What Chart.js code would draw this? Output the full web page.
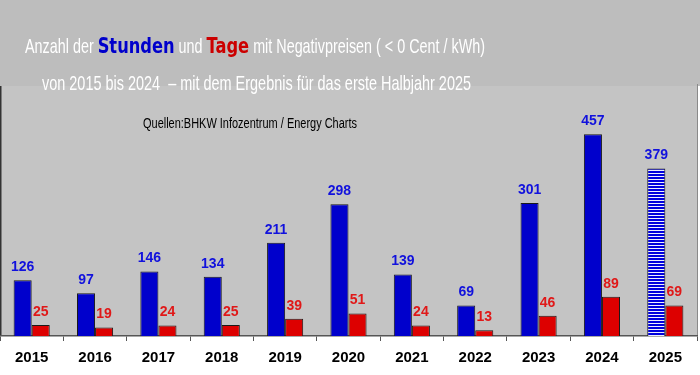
<!DOCTYPE html>
<html><head><meta charset="utf-8">
<script src="https://cdn.jsdelivr.net/npm/chart.js@4.4.1/dist/chart.umd.min.js"></script>
<style>html,body{margin:0;padding:0;background:#fff;overflow:hidden}</style>
</head><body>
<canvas id="c" width="700" height="375" style="width:700px;height:375px;display:block"></canvas>
<script>
// ---- data ----
const years = ['2015','2016','2017','2018','2019','2020','2021','2022','2023','2024','2025'];
const stunden = [126, 97, 146, 134, 211, 298, 139, 69, 301, 457, 379];
const tage = [25, 19, 24, 25, 39, 51, 24, 13, 46, 89, 69];
const titleParts = ['Anzahl der ', 'Stunden', ' und ', 'Tage', ' mit Negativpreisen ( < 0 Cent / kWh)'];
const subtitleText = 'von 2015 bis 2024  \u2013 mit dem Ergebnis für das erste Halbjahr 2025';
const sourceText = 'Quellen:BHKW Infozentrum / Energy Charts';

// ---- styles ----
const BLUE = '#0000cc', RED = '#dd0000';
const LBLUE = '#1111dd', LRED = '#e01818';
const FONT = '"Liberation Sans", Arial, sans-serif';

function stripePattern() {
  const c = document.createElement('canvas');
  c.width = 4; c.height = 3;
  const g = c.getContext('2d');
  g.fillStyle = '#eef0ff'; g.fillRect(0, 0, 4, 3);
  g.fillStyle = '#0000dd'; g.fillRect(0, 0, 4, 2);
  return g.createPattern(c, 'repeat');
}
const pat = stripePattern();
const blueFills = stunden.map((v, i) => i === stunden.length - 1 ? pat : BLUE);

const bgPlugin = {
  id: 'bg',
  beforeDraw(chart) {
    const { ctx, chartArea: a, width, height } = chart;
    ctx.save();
    ctx.fillStyle = '#ffffff'; ctx.fillRect(0, 0, width, height);
    ctx.fillStyle = '#bdbdbd'; ctx.fillRect(0, 0, width, a.top);
    ctx.fillStyle = '#c4c4c4'; ctx.fillRect(a.left, a.top, a.right - a.left, a.bottom - a.top);
    ctx.strokeStyle = '#333'; ctx.lineWidth = 1.5;
    ctx.beginPath(); ctx.moveTo(a.left + 0.75, a.top); ctx.lineTo(a.left + 0.75, a.bottom); ctx.stroke();
    ctx.strokeStyle = '#8a8a8a'; ctx.lineWidth = 1;
    ctx.beginPath(); ctx.moveTo(a.right + 0.5, a.top - 2); ctx.lineTo(a.right + 0.5, a.bottom); ctx.stroke();
    ctx.restore();
  }
};

function drawScaled(ctx, text, x, y, targetW) {
  const w = ctx.measureText(text).width;
  const s = targetW / w;
  ctx.save();
  ctx.translate(x, y);
  ctx.scale(s, 1);
  ctx.textAlign = 'center';
  ctx.fillText(text, 0, 0);
  ctx.restore();
}

const labelPlugin = {
  id: 'labels',
  afterDatasetsDraw(chart) {
    const { ctx } = chart;
    ctx.save();
    ctx.font = 'bold 14px ' + FONT;
    ctx.textAlign = 'center';
    ctx.textBaseline = 'middle';
    chart.data.datasets.forEach((ds, di) => {
      const meta = chart.getDatasetMeta(di);
      ctx.fillStyle = di === 0 ? LBLUE : LRED;
      meta.data.forEach((el, i) => {
        ctx.fillText(String(ds.data[i]), el.x, el.y - 13);
      });
    });
    ctx.restore();
  },
  afterDraw(chart) {
    const { ctx } = chart;
    ctx.save();
    ctx.textBaseline = 'alphabetic';
    // line 1 with mixed colours
    const fonts = ['21px ' + FONT, '900 22px "DejaVu Sans", ' + FONT, '21px ' + FONT, '900 22px "DejaVu Sans", ' + FONT, '21px ' + FONT];
    const cols = ['#ffffff', '#0000cc', '#ffffff', '#cc0000', '#ffffff'];
    const sx = [0.74, 0.80, 0.74, 0.80, 0.74];
    const widths = titleParts.map((t, i) => { ctx.font = fonts[i]; return ctx.measureText(t).width * sx[i]; });
    const total = widths.reduce((a, b) => a + b, 0);
    const k = 460 / total;
    let x = 255 - 230;
    titleParts.forEach((t, i) => {
      ctx.save();
      ctx.font = fonts[i];
      ctx.fillStyle = cols[i];
      ctx.translate(x, 53);
      ctx.scale(sx[i] * k, 1);
      ctx.textAlign = 'left';
      ctx.fillText(t, 0, 0);
      ctx.restore();
      x += widths[i] * k;
    });
    // line 2
    ctx.font = '21px ' + FONT;
    ctx.fillStyle = '#ffffff';
    drawScaled(ctx, subtitleText, 256.5, 90, 429);
    // source
    ctx.font = '14px ' + FONT;
    ctx.fillStyle = '#000000';
    drawScaled(ctx, sourceText, 250, 128, 214);
    ctx.restore();
  }
};

new Chart(document.getElementById('c'), {
  type: 'bar',
  data: {
    labels: years,
    datasets: [
      { label: 'Stunden', data: stunden, backgroundColor: blueFills, borderColor: '#1a1a1a', borderWidth: 1 },
      { label: 'Tage', data: tage, backgroundColor: RED, borderColor: '#1a1a1a', borderWidth: 1 }
    ]
  },
  options: {
    responsive: false,
    animation: false,
    devicePixelRatio: 1,
    categoryPercentage: 0.57,
    barPercentage: 1.0,
    layout: { padding: { top: 86, left: 0, right: 3, bottom: 0 } },
    plugins: { legend: { display: false }, title: { display: false }, tooltip: { enabled: false } },
    scales: {
      y: { display: false, min: 0, max: 566 },
      x: {
        offset: true,
        grid: { drawOnChartArea: false, tickLength: 5, color: '#555', offset: true },
        border: { color: '#555', width: 1.5 },
        ticks: { color: '#000', padding: 8, font: { family: FONT, size: 15, weight: 'bold' } }
      }
    }
  },
  plugins: [bgPlugin, labelPlugin]
});
</script>
</body></html>
